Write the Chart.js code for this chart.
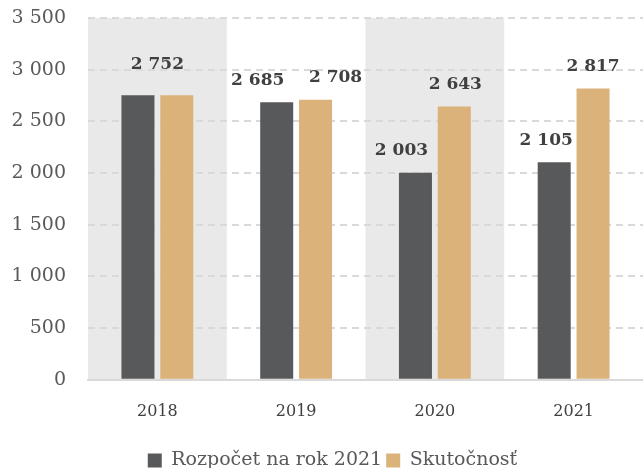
<!DOCTYPE html>
<html>
<head>
<meta charset="utf-8">
<script src="https://cdn.jsdelivr.net/npm/chart.js@4"></script>
<style>
  body { margin: 0; background: #fff; }
  #wrap { width: 643px; height: 468px; }
</style>
</head>
<body>
<div id="wrap"><canvas id="graf"></canvas></div>
<script>
const roky = ['2018', '2019', '2020', '2021'];
const rozpocet = [2752, 2685, 2003, 2105];
const skutocnost = [2752, 2708, 2643, 2817];
const osY = [0, 500, 1000, 1500, 2000, 2500, 3000, 3500];

const PISMO = "'DejaVu Serif', 'Liberation Serif', serif";
const tmava = '#58595b';
const zlata = '#dbb279';

// posuny popisov (px), ako v origináli
const posunX = [[0, 0], [-19, 20], [-14, 1], [-8, 0]];
const posunY = [[0, 0], [0, 0], [0, 0], [0, 0]];

function formatCislo(v) {
    return String(v).replace(/\B(?=(\d{3})+(?!\d))/g, ' ');
}

// sivé pásy pre 2018 a 2020
const pasy = {
    id: 'pasy',
    afterLayout(chart) {
        // legenda je v origináli trochu vpravo
        chart.legend.left += 11;
        chart.legend.right += 11;
    },
    beforeDraw(chart) {
        const { ctx, chartArea, scales } = chart;
        const sirka = (chartArea.right - chartArea.left) / roky.length;
        ctx.save();
        ctx.fillStyle = '#e9e9e9';
        roky.forEach((r, i) => {
            if (i % 2 === 0) {
                const x = scales.x.getPixelForValue(i) - sirka / 2;
                ctx.fillRect(x, chartArea.top, sirka, chartArea.bottom - chartArea.top);
            }
        });
        ctx.restore();
    }
};

// popisy hodnôt nad stĺpcami
const popisy = {
    id: 'popisy',
    afterDatasetsDraw(chart) {
        const { ctx } = chart;
        ctx.save();
        ctx.font = "bold 17px " + PISMO;
        ctx.fillStyle = '#404040';
        ctx.textAlign = 'center';
        ctx.textBaseline = 'middle';
        const m0 = chart.getDatasetMeta(0).data;
        const m1 = chart.getDatasetMeta(1).data;
        roky.forEach((r, i) => {
            if (rozpocet[i] === skutocnost[i]) {
                const x = (m0[i].x + m1[i].x) / 2;
                const y = Math.min(m0[i].y, m1[i].y) - 31;
                ctx.fillText(formatCislo(skutocnost[i]), x, y);
                return;
            }
            [m0, m1].forEach((m, d) => {
                const hodnota = d === 0 ? rozpocet[i] : skutocnost[i];
                ctx.fillText(formatCislo(hodnota), m[i].x + posunX[i][d], m[i].y - 22 + posunY[i][d]);
            });
        });
        ctx.restore();
    }
};

new Chart(document.getElementById('graf'), {
    type: 'bar',
    data: {
        labels: roky,
        datasets: [
            { label: 'Rozpočet na rok 2021', data: rozpocet, backgroundColor: tmava },
            { label: 'Skutočnosť', data: skutocnost, backgroundColor: zlata }
        ]
    },
    options: {
        responsive: true,
        maintainAspectRatio: false,
        animation: false,
        categoryPercentage: 0.56,
        barPercentage: 0.85,
        layout: { padding: { top: 0, right: 0, left: 0, bottom: -12 } },
        scales: {
            x: {
                grid: { display: false },
                border: { display: true, color: '#d9d9d9', width: 2 },
                afterFit(axis) { axis.height += 12; },
                ticks: { color: '#404040', font: { family: PISMO, size: 16 }, padding: 14 }
            },
            y: {
                min: 0,
                max: 3500,
                afterBuildTicks(axis) { axis.ticks = osY.map(v => ({ value: v })); },
                afterFit(axis) {
                    axis.width = 88;
                    axis.paddingTop = 18;
                },
                grid: { color: '#d9d9d9', lineWidth: 2, drawTicks: false },
                border: { display: false, dash: [7, 5] },
                ticks: {
                    color: '#595959',
                    font: { family: PISMO, size: 19 },
                    padding: 22,
                    callback: v => formatCislo(v)
                }
            }
        },
        plugins: {
            legend: {
                position: 'bottom',
                labels: {
                    color: '#595959',
                    font: { family: PISMO, size: 19 },
                    boxWidth: 14,
                    boxHeight: 14,
                    padding: 4
                }
            },
            tooltip: { enabled: false }
        }
    },
    plugins: [pasy, popisy]
});
</script>
</body>
</html>
